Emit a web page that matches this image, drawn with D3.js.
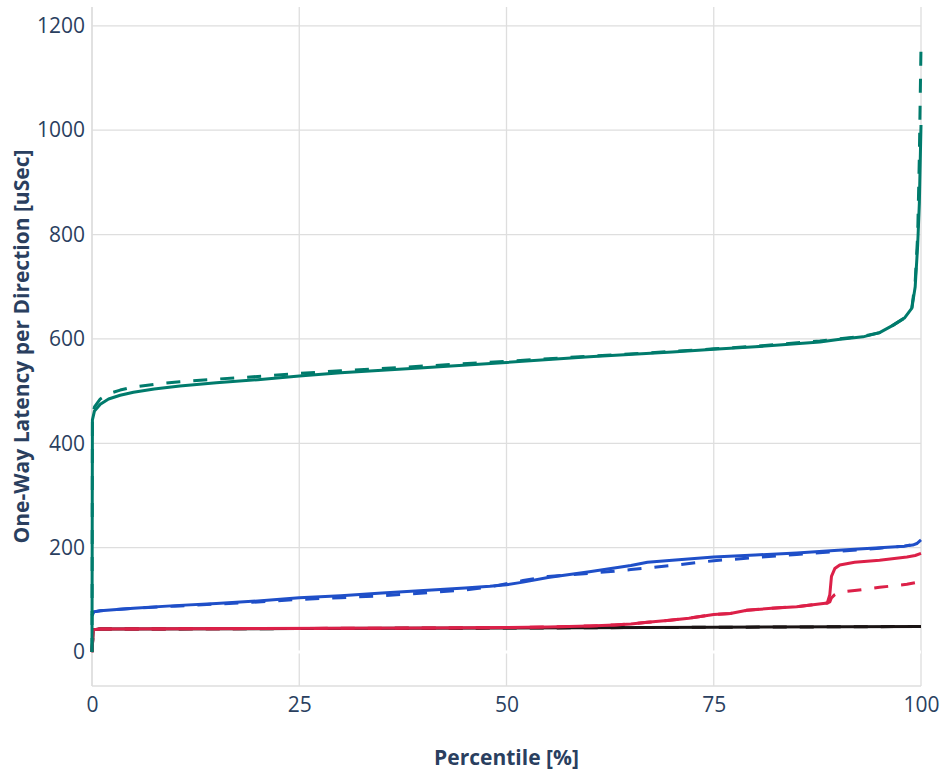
<!DOCTYPE html>
<html>
<head>
<meta charset="utf-8">
<script src="https://cdn.jsdelivr.net/npm/d3@7"></script>
<style>
  html, body { margin: 0; padding: 0; background: #fff; }
  svg text { font-family: "Open Sans", sans-serif; fill: #2a3f5f; }
</style>
</head>
<body>
<div id="chart"></div>
<script>
// percentile / latency samples
var xTicks = [0, 25, 50, 75, 100];
var yTicks = [0, 200, 400, 600, 800, 1000, 1200];

var greenPct = [0, 0.05, 0.3, 1, 2, 3.4, 5, 7.5, 10.6, 15, 20, 25, 30, 40, 50, 60, 70, 75, 80, 87.8, 90, 93, 95, 96.6, 98, 98.9, 99.3, 99.6, 99.8, 100];
var greenSolid = [0, 445, 462, 475, 485, 492, 498, 504, 510, 516, 522, 529, 535, 545, 555, 566, 575, 580, 585, 594, 599, 604, 612, 626, 640, 659, 700, 780, 860, 1010];
var greenDash = [0, 450, 470, 485, 495, 502, 508, 513, 518, 523, 528, 534, 539, 548, 557, 567, 576, 581, 586, 596, 600, 605, 612, 626, 640, 660, 710, 800, 950, 1160];

var bluePct = [0, 0.2, 1, 5, 10, 15, 20, 25, 30, 35, 40, 45, 48, 50, 52, 55, 60, 63, 65, 67, 70, 75, 80, 85, 90, 95, 98, 99, 99.5, 100];
var blueSolid = [70, 77, 79, 84, 89, 93, 98, 104, 108, 113, 118, 123, 126, 129, 134, 143, 154, 161, 166, 172, 176, 182, 186, 190, 195, 200, 203, 205, 208, 215];
var blueDash = [70, 77, 79, 84, 88, 92, 96, 101, 104, 108, 113, 119, 125, 131, 137, 145, 151, 155, 158, 161, 166, 175, 181, 187, 193, 199, 203, 206, 209, 218];

var redPct = [0, 0.15, 1, 10, 20, 30, 40, 50, 55, 60, 63, 65, 67, 69.7, 72, 75, 77, 79, 82, 85, 88.7, 89, 89.2, 89.6, 90.2, 92, 95, 98.3, 99.3, 100];
var redSolid = [0, 43, 44, 44.5, 45, 45.5, 46, 47, 48, 50, 52, 54, 57, 61, 65, 72, 74, 80, 84, 87, 94, 110, 145, 160, 167, 172, 176, 182, 185, 189];
var redDash = [0, 43, 44, 44.5, 45, 45.5, 46, 47, 48, 50, 52, 54, 57, 61, 65, 72, 74, 80, 84, 87, 94, 96, 104, 110, 115, 118, 124, 130, 133, 136];

var blackPct = [0, 0.15, 1, 25, 50, 75, 100];
var blackSolid = [0, 43, 44, 45, 46, 47.5, 49];
var blackDash = [0, 43, 44, 45, 46, 47.5, 49];

var series = [
    { pct: blackPct, lat: blackDash, color: '#1a1414', dash: '14,13' },
    { pct: blackPct, lat: blackSolid, color: '#1a1414', dash: null },
    { pct: redPct, lat: redDash, color: '#dc2048', dash: '14,13' },
    { pct: redPct, lat: redSolid, color: '#dc2048', dash: null },
    { pct: bluePct, lat: blueDash, color: '#1f4fc8', dash: '14,13' },
    { pct: bluePct, lat: blueSolid, color: '#1f4fc8', dash: null },
    { pct: greenPct, lat: greenDash, color: '#007b6c', dash: '14,13' },
    { pct: greenPct, lat: greenSolid, color: '#007b6c', dash: null }
];

var width = 944;
var height = 776;
var margin = { top: 7, right: 23, bottom: 90, left: 92 };

var svg = d3.select('#chart').append('svg')
    .attr('width', width)
    .attr('height', height);

var x = d3.scaleLinear().domain([0, 100]).range([margin.left, width - margin.right]);
var y = d3.scaleLinear().domain([-65, 1236]).range([height - margin.bottom, margin.top]);

// grid
var grid = svg.append('g').attr('class', 'grid');
grid.selectAll('line.gx')
    .data(xTicks)
    .enter().append('line')
    .attr('class', 'gx')
    .attr('x1', function(d) { return x(d); })
    .attr('x2', function(d) { return x(d); })
    .attr('y1', margin.top)
    .attr('y2', height - margin.bottom)
    .attr('stroke', '#dedede')
    .attr('stroke-width', 1.3);
grid.selectAll('line.gy')
    .data(yTicks.filter(function(d) { return d !== 0; }))
    .enter().append('line')
    .attr('class', 'gy')
    .attr('x1', margin.left)
    .attr('x2', width - margin.right)
    .attr('y1', function(d) { return y(d); })
    .attr('y2', function(d) { return y(d); })
    .attr('stroke', '#dedede')
    .attr('stroke-width', 1.3);
// white zero line
grid.append('line')
    .attr('x1', margin.left)
    .attr('x2', width - margin.right)
    .attr('y1', y(0))
    .attr('y2', y(0))
    .attr('stroke', '#fff')
    .attr('stroke-width', 3);

// axis lines
svg.append('line')
    .attr('x1', margin.left).attr('x2', width - margin.right)
    .attr('y1', height - margin.bottom).attr('y2', height - margin.bottom)
    .attr('stroke', '#dedede').attr('stroke-width', 1.3);
svg.append('line')
    .attr('x1', margin.left).attr('x2', margin.left)
    .attr('y1', margin.top).attr('y2', height - margin.bottom)
    .attr('stroke', '#dedede').attr('stroke-width', 1.3);

// lines
svg.append('clipPath').attr('id', 'clip')
    .append('rect')
    .attr('x', margin.left - 2)
    .attr('y', margin.top)
    .attr('width', width - margin.left - margin.right + 4)
    .attr('height', height - margin.top - margin.bottom);

var line = d3.line()
    .x(function(d) { return x(d[0]); })
    .y(function(d) { return y(d[1]); });

svg.append('g')
    .attr('clip-path', 'url(#clip)')
    .selectAll('path')
    .data(series)
    .enter().append('path')
    .attr('d', function(s) { return line(d3.zip(s.pct, s.lat)); })
    .attr('fill', 'none')
    .attr('stroke', function(s) { return s.color; })
    .attr('stroke-width', 3)
    .attr('stroke-linejoin', 'round')
    .attr('stroke-dasharray', function(s) { return s.dash; });

// axes
var xAxis = d3.axisBottom(x).tickValues(xTicks).tickFormat(d3.format('d')).tickSize(0).tickPadding(11);
var yAxis = d3.axisLeft(y).tickValues(yTicks).tickFormat(d3.format('d')).tickSize(0).tickPadding(7);

var gx = svg.append('g')
    .attr('transform', 'translate(0,' + (height - margin.bottom) + ')')
    .call(xAxis);
var gy = svg.append('g')
    .attr('transform', 'translate(' + margin.left + ',0)')
    .call(yAxis);
[gx, gy].forEach(function(g) {
    g.select('.domain').remove();
    g.selectAll('text')
        .style('font-family', '"Open Sans", sans-serif')
        .style('font-size', '21px')
        .attr('fill', '#2a3f5f');
});

svg.append('text')
    .attr('x', (margin.left + width - margin.right) / 2)
    .attr('y', 765)
    .attr('text-anchor', 'middle')
    .style('font-size', '21px')
    .style('font-weight', 'bold')
    .text('Percentile [%]');

svg.append('text')
    .attr('transform', 'translate(29,' + ((margin.top + height - margin.bottom) / 2) + ') rotate(-90)')
    .attr('text-anchor', 'middle')
    .style('font-size', '21px')
    .style('font-weight', 'bold')
    .text('One-Way Latency per Direction [uSec]');
</script>
</body>
</html>
